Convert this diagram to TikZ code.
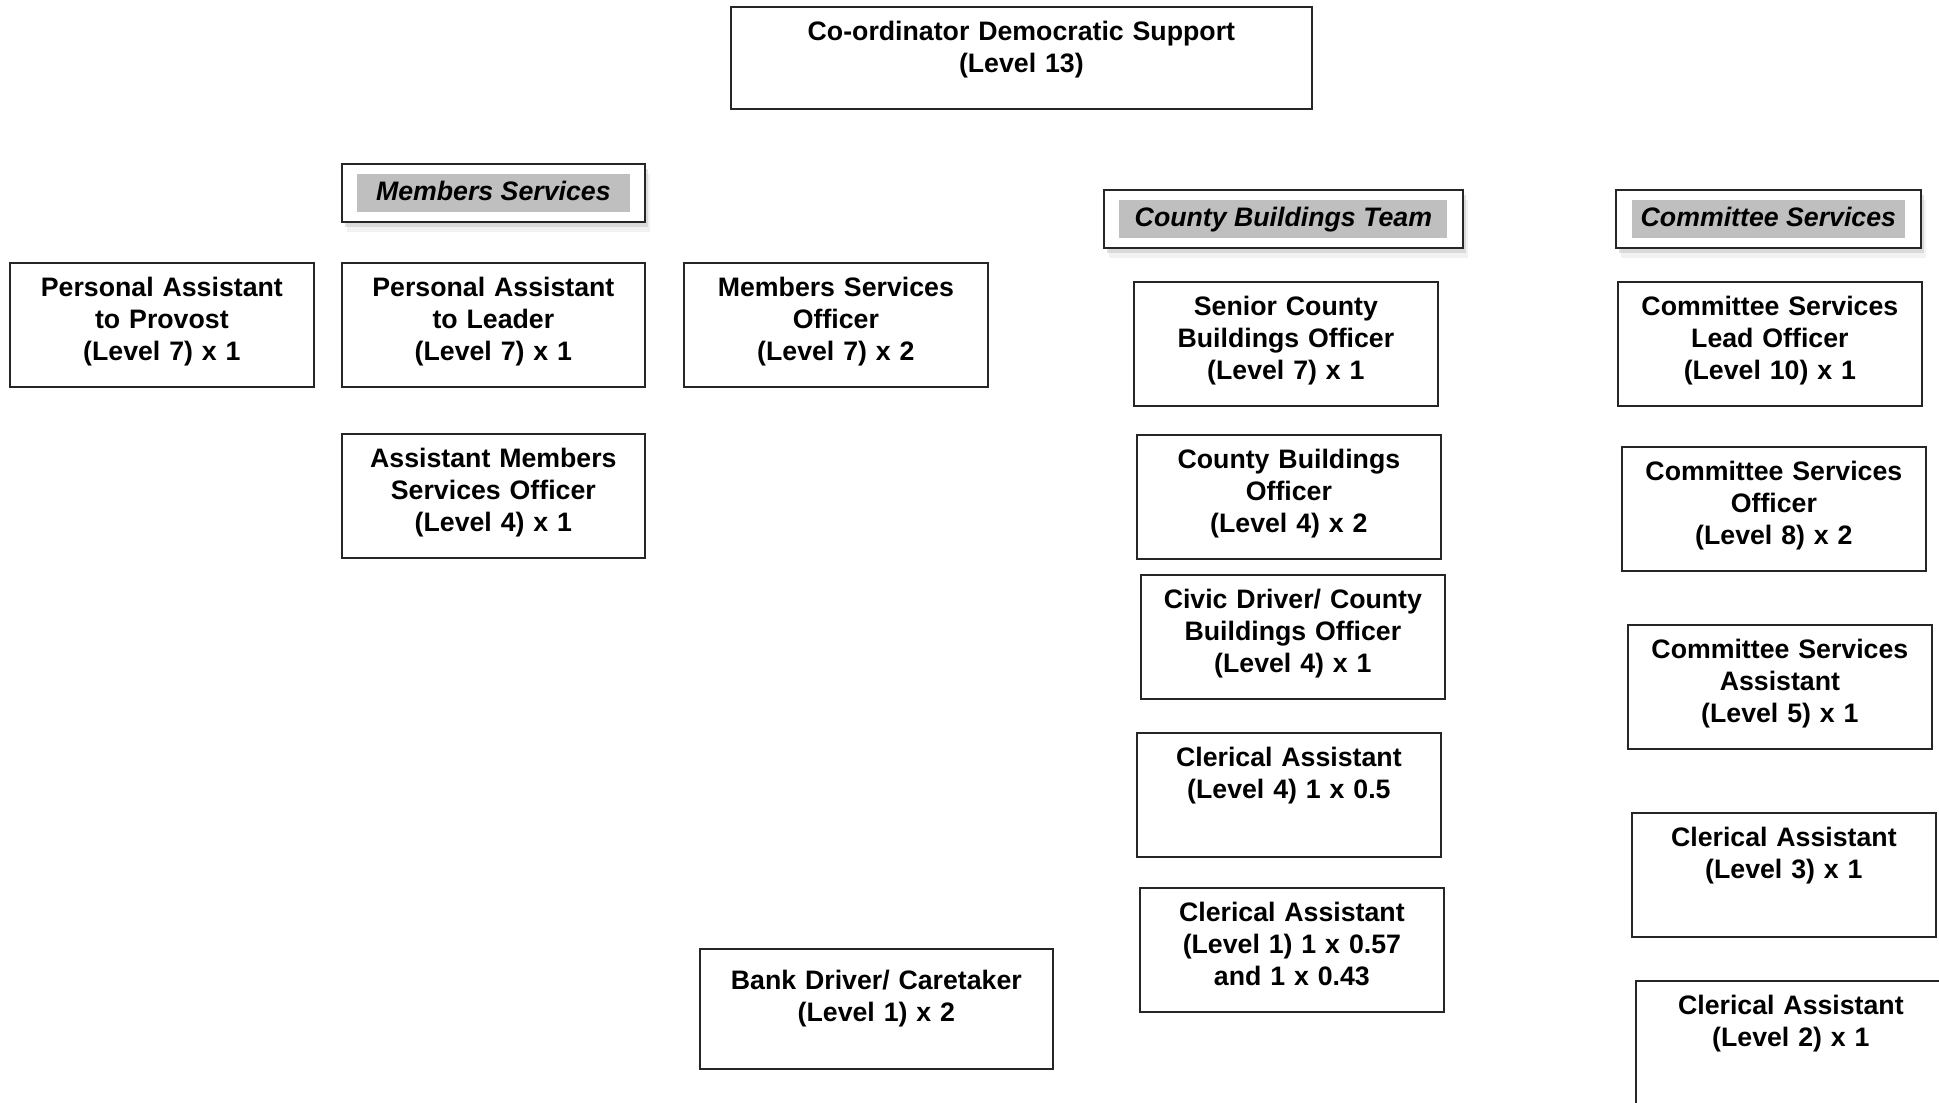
\documentclass[tikz,border=0pt]{standalone}
\usepackage{fontspec}
\setmainfont{Liberation Sans}
\usetikzlibrary{shadows}

\begin{document}
\begin{tikzpicture}[
        post/.style={rectangle, draw=black!85, line width=0.5pt, anchor=north west, inner sep=0pt,
            text width=3.04cm, align=center, text height=0.34cm, text depth=0.90cm,
            font=\bfseries\fontsize{7.6}{9.1}\selectfont},
        teamframe/.style={rectangle, draw=black!85, line width=0.5pt, fill=white, anchor=north west,
            minimum height=0.58cm, inner sep=0pt,
            drop shadow={shadow xshift=0.05cm, shadow yshift=-0.10cm, fill=black!15, opacity=0.35},
            drop shadow={shadow xshift=0.03cm, shadow yshift=-0.05cm, fill=black!25, opacity=0.45}},
        teamtag/.style={rectangle, fill=black!25, minimum height=0.38cm, inner sep=0pt,
            text height=0.2cm, text depth=0.056cm,
            font=\bfseries\itshape\fontsize{7.6}{9.1}\selectfont}
    ]
        \clip (0,0) rectangle (19.39,-11.02);

        \node[post, text width=5.81cm, text depth=0.68cm] (coord) at (7.30,-0.06) {Co-ordinator Democratic Support\\(Level 13)};

        \node[teamframe, minimum width=3.03cm] (msHead) at (3.41,-1.63) {};
        \node[teamtag, minimum width=2.73cm] (msTag) at (msHead.center) {Members Services};
        \node[teamframe, minimum width=3.59cm] (cbHead) at (11.03,-1.89) {};
        \node[teamtag, minimum width=3.28cm] (cbTag) at (cbHead.center) {County Buildings Team};
        \node[teamframe, minimum width=3.05cm] (csHead) at (16.15,-1.89) {};
        \node[teamtag, minimum width=2.73cm] (csTag) at (csHead.center) {Committee Services};

        \node[post] (paProvost) at (0.09,-2.62) {Personal Assistant\\to Provost\\(Level 7) x 1};
        \node[post, text width=3.03cm] (paLeader) at (3.41,-2.62) {Personal Assistant\\to Leader\\(Level 7) x 1};
        \node[post] (msOfficer) at (6.83,-2.62) {Members Services\\Officer\\(Level 7) x 2};
        \node[post, text width=3.03cm] (amsOfficer) at (3.41,-4.33) {Assistant Members\\Services Officer\\(Level 4) x 1};
        \node[post, text width=3.53cm, text height=0.41cm, text depth=0.79cm] (bankDriver) at (6.99,-9.48) {Bank Driver/ Caretaker\\(Level 1) x 2};

        \node[post] (scbOfficer) at (11.33,-2.81) {Senior County\\Buildings Officer\\(Level 7) x 1};
        \node[post] (cbOfficer) at (11.36,-4.34) {County Buildings\\Officer\\(Level 4) x 2};
        \node[post] (civicDriver) at (11.40,-5.74) {Civic Driver/ County\\Buildings Officer\\(Level 4) x 1};
        \node[post] (clerkFour) at (11.36,-7.32) {Clerical Assistant\\(Level 4) 1 x 0.5};
        \node[post] (clerkOne) at (11.39,-8.87) {Clerical Assistant\\(Level 1) 1 x 0.57\\and 1 x 0.43};

        \node[post] (csLead) at (16.17,-2.81) {Committee Services\\Lead Officer\\(Level 10) x 1};
        \node[post] (csOfficer) at (16.21,-4.46) {Committee Services\\Officer\\(Level 8) x 2};
        \node[post] (csAssistant) at (16.27,-6.24) {Committee Services\\Assistant\\(Level 5) x 1};
        \node[post] (clerkThree) at (16.31,-8.12) {Clerical Assistant\\(Level 3) x 1};
        \node[post, text width=3.10cm] (clerkTwo) at (16.35,-9.80) {Clerical Assistant\\(Level 2) x 1};
    \end{tikzpicture}
\end{document}
